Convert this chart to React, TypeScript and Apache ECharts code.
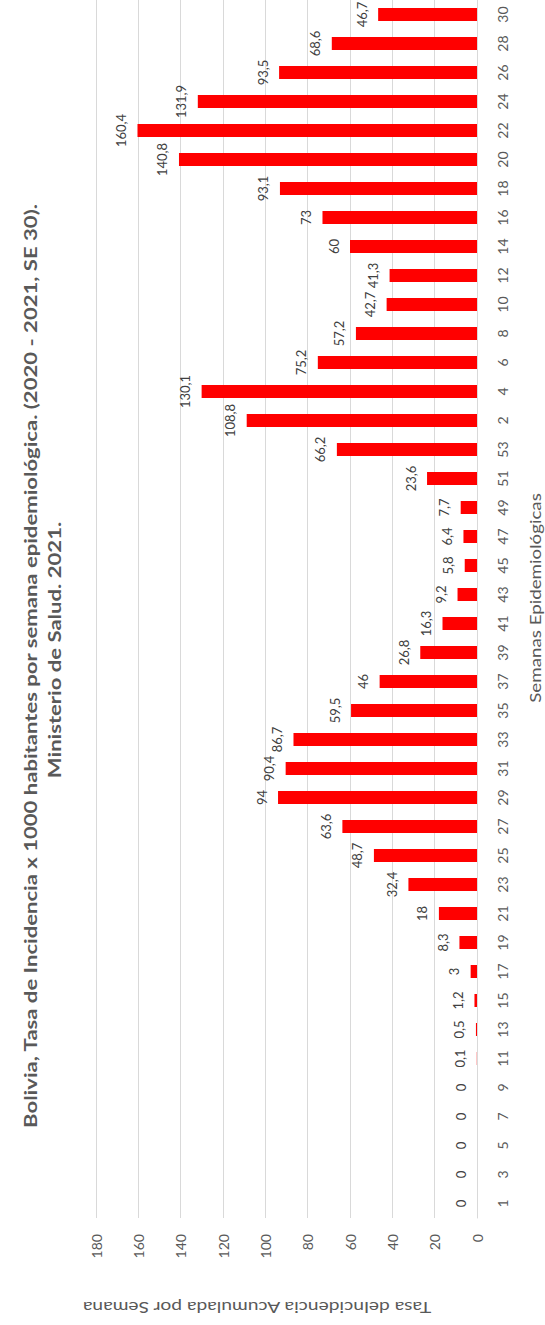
import React, { useEffect, useRef } from 'react';
import * as echarts from 'echarts';

const titleLine1 = 'Bolivia, Tasa de Incidencia x 1000 habitantes por semana epidemiológica. (2020 - 2021, SE 30).';
const titleLine2 = 'Ministerio de Salud. 2021.';
const valueAxisTitle = 'Tasa deIncidencia Acumulada por Semana';
const categoryAxisTitle = 'Semanas Epidemiológicas';

const weeks = [
  '1', '3', '5', '7', '9', '11', '13', '15', '17', '19', '21', '23', '25', '27',
  '29', '31', '33', '35', '37', '39', '41', '43', '45', '47', '49', '51', '53',
  '2', '4', '6', '8', '10', '12', '14', '16', '18', '20', '22', '24', '26', '28', '30',
];

const rates = [
  0, 0, 0, 0, 0, 0.1, 0.5, 1.2, 3, 8.3, 18, 32.4, 48.7, 63.6,
  94, 90.4, 86.7, 59.5, 46, 26.8, 16.3, 9.2, 5.8, 6.4, 7.7, 23.6, 66.2,
  108.8, 130.1, 75.2, 57.2, 42.7, 41.3, 60, 73, 93.1, 140.8, 160.4, 131.9, 93.5, 68.6, 46.7,
];

const valueMin = 0;
const valueMax = 180;
const valueStep = 20;

const FONT = 'Lato, "Open Sans", sans-serif';

export default function App() {
  const ref = useRef<HTMLDivElement>(null);

  useEffect(() => {
    if (!ref.current) return;
    const chart = echarts.init(ref.current, undefined, { renderer: 'svg' });
    chart.setOption({
      animation: false,
      backgroundColor: '#ffffff',
      grid: { left: 96, right: 68, top: 0, bottom: 107, containLabel: false },
      xAxis: {
        type: 'value',
        inverse: true,
        min: valueMin,
        max: valueMax,
        interval: valueStep,
        axisLine: { show: false },
        axisTick: { show: false },
        splitLine: { show: true, lineStyle: { color: '#d9d9d9', width: 1 } },
        axisLabel: { rotate: 90, margin: 16, color: '#595959', fontSize: 14, fontFamily: FONT },
      },
      yAxis: {
        type: 'category',
        position: 'right',
        data: weeks,
        axisTick: { show: false },
        axisLine: { show: true, lineStyle: { color: '#d9d9d9', width: 1 } },
        splitLine: { show: false },
        axisLabel: { rotate: 90, margin: 18, interval: 0, color: '#595959', fontSize: 14, fontFamily: FONT },
      },
      series: [
        {
          type: 'bar',
          data: rates,
          barWidth: 13,
          itemStyle: { color: '#ff0000' },
          label: {
            show: true,
            position: 'left',
            distance: 10,
            rotate: 90,
            align: 'center',
            verticalAlign: 'bottom',
            color: '#404040',
            fontSize: 13,
            fontFamily: FONT,
            formatter: (p: any) => String(p.value).replace('.', ','),
          },
        },
      ],
      graphic: [
        {
          type: 'text',
          x: 31,
          y: 666,
          rotation: Math.PI / 2,
          scaleX: 1.3,
          scaleY: 1,
          style: {
            text: titleLine1,
            fill: '#595959',
            fontSize: 17,
            fontWeight: 'bold',
            fontFamily: FONT,
            align: 'center',
            verticalAlign: 'middle',
          },
        },
        {
          type: 'text',
          x: 55,
          y: 650,
          rotation: Math.PI / 2,
          scaleX: 1.3,
          scaleY: 1,
          style: {
            text: titleLine2,
            fill: '#595959',
            fontSize: 17,
            fontWeight: 'bold',
            fontFamily: FONT,
            align: 'center',
            verticalAlign: 'middle',
          },
        },
        {
          type: 'text',
          x: 257,
          y: 1308,
          rotation: Math.PI,
          scaleX: 1.2,
          scaleY: 1,
          style: {
            text: valueAxisTitle,
            fill: '#595959',
            fontSize: 16,
            fontFamily: FONT,
            align: 'center',
            verticalAlign: 'middle',
          },
        },
        {
          type: 'text',
          x: 535,
          y: 598,
          rotation: Math.PI / 2,
          scaleX: 1.25,
          scaleY: 1,
          style: {
            text: categoryAxisTitle,
            fill: '#595959',
            fontSize: 15,
            fontFamily: FONT,
            align: 'center',
            verticalAlign: 'middle',
          },
        },
      ],
    });
    return () => chart.dispose();
  }, []);

  return (
    <div
      ref={ref}
      style={{ position: 'absolute', left: 0, top: 0, width: 545, height: 1325, background: '#ffffff' }}
    />
  );
}
